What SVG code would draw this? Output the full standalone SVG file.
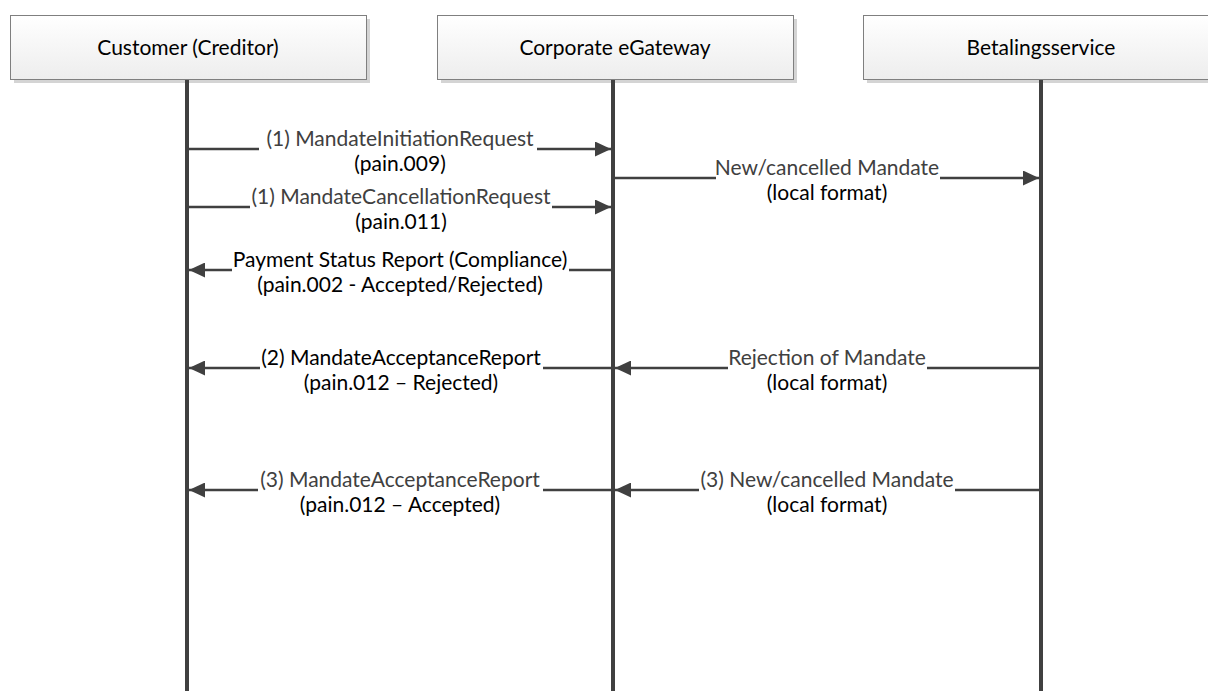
<svg xmlns="http://www.w3.org/2000/svg" width="1208" height="691" viewBox="0 0 1208 691">
<style>
.box{fill:url(#bg);stroke:#7f7f7f;stroke-width:1}
.shadow{fill:#d4d4d4}
.life{stroke:#404040;stroke-width:4;fill:none}
.msg{stroke:#404040;stroke-width:2.5;fill:none}
.gap{fill:#ffffff}
text{font-family:Lato,"Liberation Sans",sans-serif;font-size:21px;text-anchor:middle}
.g{fill:#404040}
.k{fill:#000000}
</style>
<defs>
<linearGradient id="bg" x1="0" y1="0" x2="0" y2="1">
<stop offset="0" stop-color="#ffffff"/>
<stop offset="1" stop-color="#ededed"/>
</linearGradient>
<marker id="ah" viewBox="0 0 16 15" refX="16" refY="7.5" markerWidth="16" markerHeight="15" markerUnits="userSpaceOnUse" orient="auto">
<path d="M0,0 L16,7.5 L0,15 Z" fill="#404040"/>
</marker>
</defs>
<g id="customer">
<rect class="shadow" x="14" y="19" width="356" height="64"/>
<rect class="box" x="10.5" y="15.5" width="356" height="64"/>
<text class="k" x="188" y="55">Customer (Creditor)</text>
<line class="life" x1="187" y1="80" x2="187" y2="691"/>
</g>
<g id="gateway">
<rect class="shadow" x="441" y="19" width="356" height="64"/>
<rect class="box" x="437.5" y="15.5" width="356" height="64"/>
<text class="k" x="615" y="55">Corporate eGateway</text>
<line class="life" x1="613" y1="80" x2="613" y2="691"/>
</g>
<g id="betalingsservice">
<rect class="shadow" x="867" y="19" width="356" height="64"/>
<rect class="box" x="863.5" y="15.5" width="356" height="64"/>
<text class="k" x="1041" y="55">Betalingsservice</text>
<line class="life" x1="1041" y1="80" x2="1041" y2="691"/>
</g>
<g id="connectors">
<g id="m1">
<line class="msg" x1="189" y1="149" x2="611" y2="149" marker-end="url(#ah)"/>
<rect class="gap" x="259" y="140" width="278" height="12"/>
<text class="g" x="400" y="146">(1) MandateInitiationRequest</text>
<text class="k" x="400" y="170.5">(pain.009)</text>
</g>
<g id="m2">
<line class="msg" x1="615" y1="178" x2="1039" y2="178" marker-end="url(#ah)"/>
<rect class="gap" x="716" y="169" width="224" height="12"/>
<text class="g" x="827" y="175">New/cancelled Mandate</text>
<text class="k" x="827" y="199.5">(local format)</text>
</g>
<g id="m3">
<line class="msg" x1="189" y1="207" x2="611" y2="207" marker-end="url(#ah)"/>
<rect class="gap" x="250" y="198" width="302" height="12"/>
<text class="g" x="401" y="204">(1) MandateCancellationRequest</text>
<text class="k" x="401" y="228.5">(pain.011)</text>
</g>
<g id="m4">
<line class="msg" x1="611" y1="270" x2="189" y2="270" marker-end="url(#ah)"/>
<rect class="gap" x="232" y="261" width="337" height="12"/>
<text class="k" x="400" y="267">Payment Status Report (Compliance)</text>
<text class="k" x="400" y="291.5">(pain.002 - Accepted/Rejected)</text>
</g>
<g id="m5">
<line class="msg" x1="611" y1="368" x2="189" y2="368" marker-end="url(#ah)"/>
<rect class="gap" x="260" y="359" width="283" height="12"/>
<text class="k" x="401" y="365">(2) MandateAcceptanceReport</text>
<text class="k" x="401" y="389.5">(pain.012 – Rejected)</text>
</g>
<g id="m6">
<line class="msg" x1="1039" y1="368" x2="615" y2="368" marker-end="url(#ah)"/>
<rect class="gap" x="728" y="359" width="199" height="12"/>
<text class="g" x="827" y="365">Rejection of Mandate</text>
<text class="k" x="827" y="389.5">(local format)</text>
</g>
<g id="m7">
<line class="msg" x1="611" y1="490" x2="189" y2="490" marker-end="url(#ah)"/>
<rect class="gap" x="258" y="481" width="285" height="12"/>
<text class="g" x="400" y="487">(3) MandateAcceptanceReport</text>
<text class="k" x="400" y="511.5">(pain.012 – Accepted)</text>
</g>
<g id="m8">
<line class="msg" x1="1039" y1="490" x2="615" y2="490" marker-end="url(#ah)"/>
<rect class="gap" x="699" y="481" width="256" height="12"/>
<text class="g" x="827" y="487">(3) New/cancelled Mandate</text>
<text class="k" x="827" y="511.5">(local format)</text>
</g>
</g>
</svg>
